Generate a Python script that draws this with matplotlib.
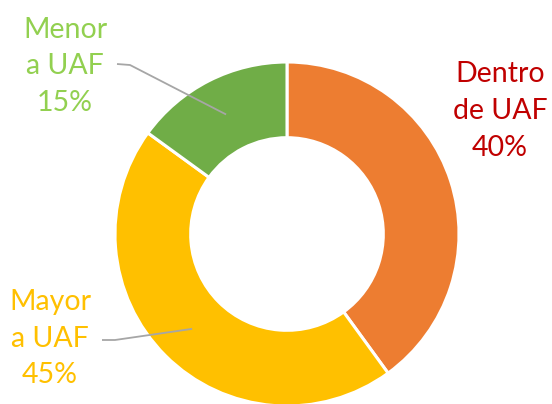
import matplotlib
matplotlib.use("Agg")
import matplotlib.pyplot as plt
import numpy as np

labels = ["Dentro\nde UAF", "Mayor\na UAF", "Menor\na UAF"]
values = [40, 45, 15]
colors = ["#ED7D31", "#FFC000", "#70AD47"]
text_colors = ["#C00000", "#FFC000", "#92D050"]

plt.rcParams['font.family'] = ['Lato', 'DejaVu Sans']

W, H = 552, 404
fig = plt.figure(figsize=(W / 100, H / 100), dpi=100)
ax = fig.add_axes([0, 0, 1, 1])
R = 172.0
cx, cy = 287.0, 234.0

def px(x, y):
    return ((x - cx) / R, (cy - y) / R)

wedges, _ = ax.pie(values, colors=colors, startangle=90, counterclock=False,
                   radius=1.0, wedgeprops=dict(width=0.44, edgecolor="white", linewidth=2.2))

label_pos = [px(500, 111), px(50, 339), px(65, 66)]
leader = [None, [px(102, 340), px(115, 340)], [px(117, 64), px(130, 65)]]

for i, w in enumerate(wedges):
    pct = f"{values[i]}%"
    ax.text(label_pos[i][0], label_pos[i][1], labels[i] + "\n" + pct,
            ha="center", va="center", fontsize=20.5, color=text_colors[i],
            linespacing=1.5)
    if leader[i] is not None:
        ang = np.deg2rad((w.theta1 + w.theta2) / 2)
        ex, ey = 0.78 * np.cos(ang), 0.78 * np.sin(ang)
        xs = [leader[i][0][0], leader[i][1][0], ex]
        ys = [leader[i][0][1], leader[i][1][1], ey]
        ax.plot(xs, ys, color="#A6A6A6", lw=1.3, solid_capstyle="butt")

ax.set_xlim(-cx / R, (W - cx) / R)
ax.set_ylim(-(H - cy) / R, cy / R)
ax.set_aspect("equal")
ax.axis("off")
fig.savefig("out.png", dpi=100)
